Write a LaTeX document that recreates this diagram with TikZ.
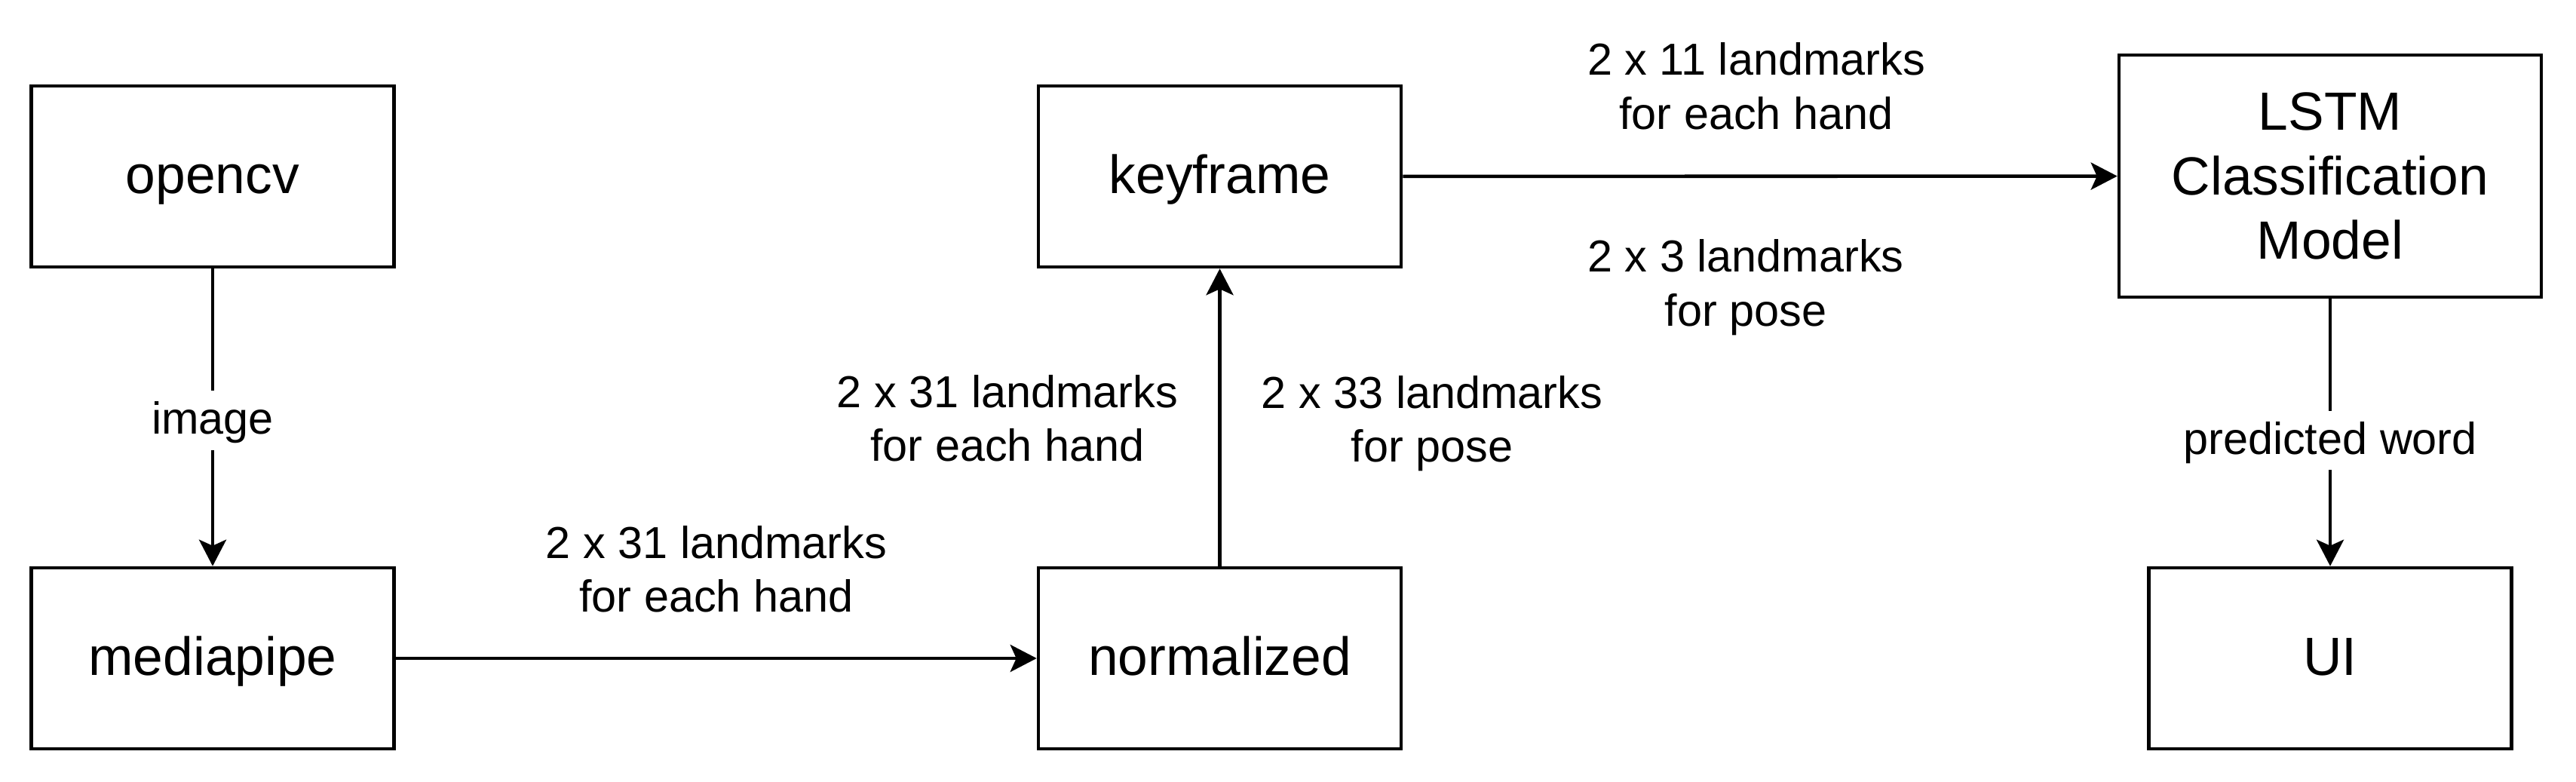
\documentclass[tikz,border=0pt]{standalone}
\usepackage{fontspec}
\setmainfont{Liberation Sans}
\usetikzlibrary{arrows.meta}

\begin{document}
\begin{tikzpicture}[
box/.style={draw,line width=1.3pt,minimum width=4.81cm,minimum height=2.40cm,inner sep=0pt,align=center,font=\fontsize{20.3}{24.3}\selectfont},
word/.style={box,text height=0.570cm,text depth=0.128cm},
txt/.style={align=center,inner sep=0pt,font=\fontsize{16.9}{20.3}\selectfont},
lbl/.style={txt,text height=0.475cm,text depth=0.107cm,fill=white,inner sep=1mm},
arr/.style={line width=1.3pt,-{Stealth[length=3.5mm,width=3.6mm,inset=0.8mm]}}
]
\useasboundingbox (0,0) rectangle (34.16,10.36);

\node[word](O) at (2.82,8.02){opencv};
\node[word](M) at (2.82,1.63){mediapipe};
\node[word](K) at (16.175,8.02){keyframe};
\node[word](N) at (16.175,1.63){normalized};
\node[box,minimum width=5.60cm,minimum height=3.21cm](L) at (30.90,8.025){LSTM\\Classification\\Model};
\node[word](U) at (30.90,1.63){UI};

\draw[arr](O) -- (M) node[lbl,pos=0.51](I){image};
\draw[arr](M) -- (N);
\draw[arr](N) -- (K);
\draw[arr](K) -- (L);
\draw[arr](L) -- (U) node[lbl,pos=0.53](P){predicted word};

\node[txt](A) at (9.50,2.812){2 x 31 landmarks\\for each hand};
\node[txt](B) at (13.36,4.812){2 x 31 landmarks\\for each hand};
\node[txt](C) at (18.99,4.745){2 x 33 landmarks\\for pose};
\node[txt](D) at (23.29,9.217){2 x 11 landmarks\\for each hand};
\node[txt](E) at (23.15,6.55){2 x 3 landmarks\\for pose};

\end{tikzpicture}
\end{document}
